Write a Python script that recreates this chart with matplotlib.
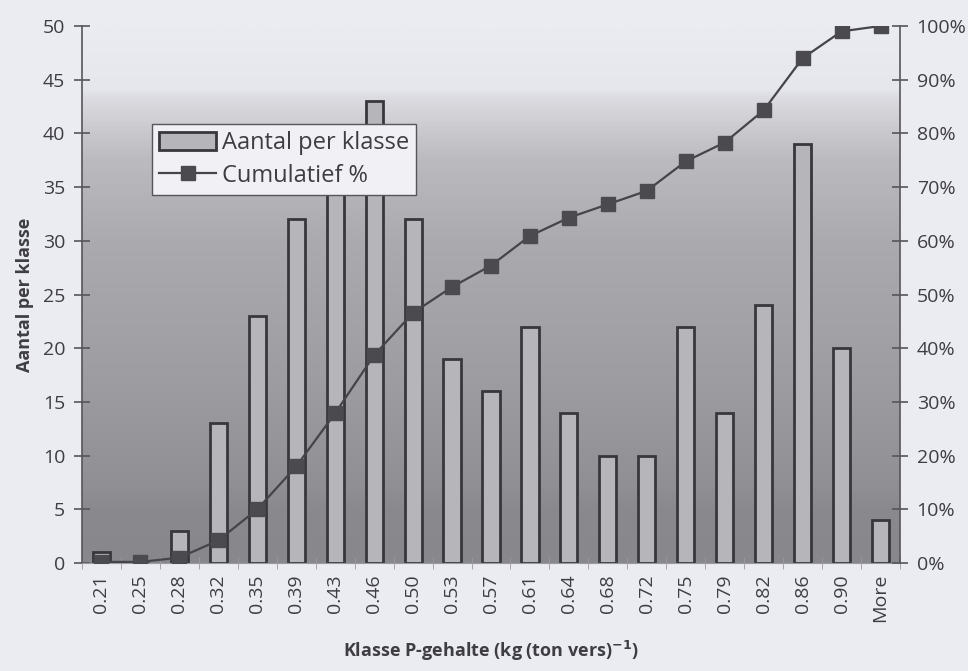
import matplotlib.pyplot as plt
from matplotlib.colors import LinearSegmentedColormap
from matplotlib.ticker import FuncFormatter, FixedLocator
import numpy as np

plt.rcParams['font.family'] = ['Open Sans', 'DejaVu Sans']

klassen = ['0.21', '0.25', '0.28', '0.32', '0.35', '0.39', '0.43', '0.46', '0.50',
           '0.53', '0.57', '0.61', '0.64', '0.68', '0.72', '0.75', '0.79', '0.82',
           '0.86', '0.90', 'More']
aantal = [1, 0, 3, 13, 23, 32, 40, 43, 32, 19, 16, 22, 14, 10, 10, 22, 14, 24, 39, 20, 4]
cumulatief = [0.2, 0.2, 1.0, 4.2, 10.0, 18.0, 27.9, 38.7, 46.6, 51.4, 55.4, 60.9,
              64.3, 66.8, 69.3, 74.8, 78.3, 84.3, 94.0, 99.0, 100.0]

bg = '#ebebf2'
ink = '#3d3d42'

fig = plt.figure(figsize=(9.68, 6.71), dpi=100, facecolor=bg)
ax = fig.add_axes([82 / 968, 1 - 563 / 671, 818 / 968, 537 / 671])
ax.set_facecolor(bg)

# grey gradient behind the bars, light at the top and darker towards the bottom
stops = [(0.0, '#88888c'), (0.10, '#8a8a8e'), (0.14, '#909094'), (0.35, '#9e9ea2'),
         (0.6, '#ababaf'), (0.75, '#bbbbbf'), (0.80, '#c8c8cc'), (0.84, '#d3d3d8'),
         (0.87, '#dcdce2'), (0.885, '#e6e6ed'), (1.0, bg)]
cmap = LinearSegmentedColormap.from_list('achtergrond', stops)
grad = np.linspace(0, 1, 400).reshape(-1, 1)
ax.imshow(grad, cmap=cmap, aspect='auto', origin='lower',
          extent=[-0.5, len(klassen) - 0.5, 0, 50], zorder=0)

x = np.arange(len(klassen))
ax.bar(x, aantal, width=0.44, color='#b5b5ba', edgecolor='#38383c', linewidth=2,
       zorder=2, label='Aantal per klasse')

ax.set_xlim(-0.5, len(klassen) - 0.5)
ax.set_ylim(0, 50)
ax.set_yticks(range(0, 51, 5))
ax.set_xticks(x)
ax.set_xticklabels(klassen, rotation=90)
ax.xaxis.set_minor_locator(FixedLocator(np.arange(-0.5, len(klassen), 1)))
ax.tick_params(axis='x', which='major', length=0, pad=8, labelsize=14, labelcolor=ink)
ax.tick_params(axis='x', which='minor', length=8, direction='inout', color='#9a9aa0')
ax.tick_params(axis='y', length=12, direction='inout', width=1.2, color='#55555a',
               labelsize=14, labelcolor=ink, pad=6)

for side in ['top', 'right']:
    ax.spines[side].set_visible(False)
ax.spines['bottom'].set_color('#9a9aa0')
ax.spines['left'].set_color('#55555a')
ax.spines['left'].set_linewidth(1.2)

ax.set_ylabel('Aantal per klasse', fontsize=13, fontweight='bold', color=ink, labelpad=6)
ax.set_xlabel('Klasse P-gehalte (kg (ton vers)$^{\\mathbf{-1}}$)', fontsize=13,
              fontweight='bold', color=ink, labelpad=12)

# cumulative percentage on the right-hand axis
ax2 = ax.twinx()
ax2.plot(x, cumulatief, color='#444449', linewidth=1.6, marker='s', markersize=10,
         markerfacecolor='#4a4a4f', markeredgecolor='#4a4a4f', zorder=3,
         label='Cumulatief %')
ax2.set_ylim(0, 100)
ax2.set_yticks(range(0, 101, 10))
ax2.yaxis.set_major_formatter(FuncFormatter(lambda v, p: f'{v:.0f}%'))
ax2.tick_params(axis='y', length=12, direction='inout', width=1.2, color='#55555a',
                labelsize=14, labelcolor=ink, pad=6)
for side in ['top', 'left', 'bottom']:
    ax2.spines[side].set_visible(False)
ax2.spines['right'].set_color('#55555a')
ax2.spines['right'].set_linewidth(1.2)

h1, l1 = ax.get_legend_handles_labels()
h2, l2 = ax2.get_legend_handles_labels()
leg = ax2.legend(h1 + h2, l1 + l2, loc='upper left', bbox_to_anchor=(0.086, 0.817),
                 fontsize=17, frameon=True, fancybox=False, framealpha=1,
                 facecolor='#f0f0f5', edgecolor='#55555a', handlelength=2.4,
                 handleheight=0.8, handletextpad=0.25, borderpad=0.3,
                 labelspacing=0.35, borderaxespad=0, labelcolor=ink)
leg.get_frame().set_linewidth(1.0)
leg.set_zorder(10)

fig.savefig('out.png', dpi=100, facecolor=bg)
